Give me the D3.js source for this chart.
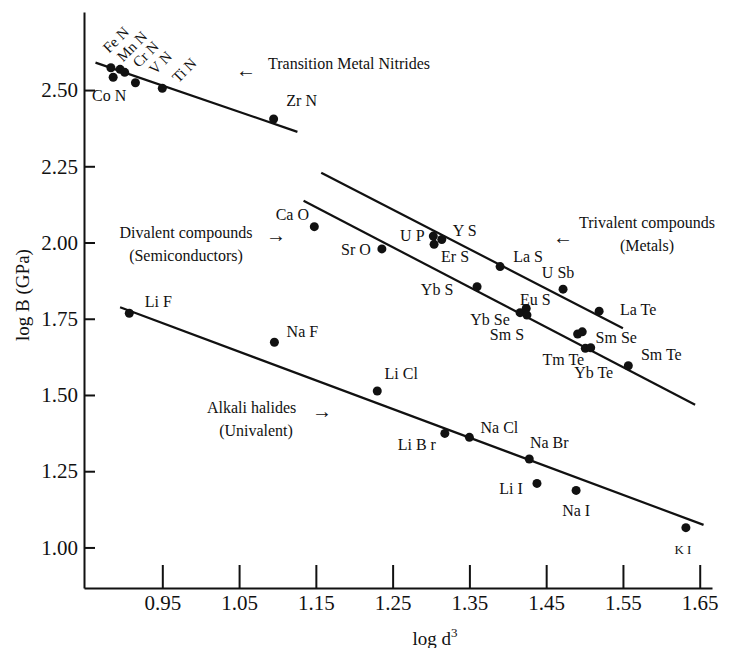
<!DOCTYPE html>
<html>
<head>
<meta charset="utf-8">
<script src="https://cdn.jsdelivr.net/npm/d3@7"></script>
<style>
  body { margin: 0; background: #fff; }
  text { font-family: "Liberation Serif", "Times New Roman", serif; fill: #111; }
</style>
</head>
<body>
<div id="container"></div>
<script>
// values: log d^3 (x) and log B in GPa (y)
const nitrideNames = ['Fe N', 'Co N', 'Mn N', 'Cr N', 'V N', 'Ti N', 'Zr N'];
const nitrideLogD3 = [0.883, 0.886, 0.895, 0.901, 0.915, 0.950, 1.095];
const nitrideLogB  = [2.573, 2.542, 2.568, 2.558, 2.524, 2.506, 2.405];

const divalentNames = ['Ca O', 'Sr O', 'Yb S', 'Yb Se', 'Eu S', 'Sm S', '', 'Sm Se', 'Tm Te', 'Yb Te', 'Sm Te'];
const divalentLogD3 = [1.148, 1.236, 1.360, 1.416, 1.424, 1.425, 1.491, 1.497, 1.501, 1.508, 1.557];
const divalentLogB  = [2.052, 1.979, 1.855, 1.770, 1.784, 1.762, 1.700, 1.707, 1.653, 1.655, 1.596];

const trivalentNames = ['U P', 'Er S', 'Y S', 'La S', 'U Sb', 'La Te'];
const trivalentLogD3 = [1.303, 1.304, 1.314, 1.390, 1.472, 1.519];
const trivalentLogB  = [2.021, 1.994, 2.010, 1.921, 1.847, 1.775];

const alkaliNames = ['Li F', 'Na F', 'Li Cl', 'Li B r', 'Na Cl', 'Na Br', 'Li I', 'Na I', 'K I'];
const alkaliLogD3 = [0.907, 1.096, 1.230, 1.318, 1.350, 1.428, 1.438, 1.489, 1.632];
const alkaliLogB  = [1.768, 1.673, 1.513, 1.374, 1.361, 1.290, 1.210, 1.187, 1.065];

// fitted lines, end points [logD3, logB]
const nitrideFit   = [[0.863, 2.590], [1.126, 2.363]];
const trivalentFit = [[1.157, 2.229], [1.550, 1.719]];
const divalentFit  = [[1.134, 2.137], [1.644, 1.468]];
const alkaliFit    = [[0.895, 1.7875], [1.655, 1.074]];

const xTicks = [0.95, 1.05, 1.15, 1.25, 1.35, 1.45, 1.55, 1.65];
const yTicks = [1.00, 1.25, 1.50, 1.75, 2.00, 2.25, 2.50];

// label placement next to each dot: [dx, dy, rotation]
const labelPos = {
  'Fe N': [5, -28, -45], 'Mn N': [12, -23, -45], 'Cr N': [21, -18, -45],
  'V N': [25, -20, -45], 'Ti N': [22, -18, -45], 'Co N': [-4, 18, 0], 'Zr N': [28, -19, 0],
  'Ca O': [-22, -12, 0], 'Sr O': [-26, 1, 0], 'Yb S': [-40, 3, 0], 'Yb Se': [-30, 7, 0],
  'Eu S': [9, -9, 0], 'Sm S': [-20, 19, 0], 'Sm Se': [34, 6, 0], 'Tm Te': [-22, 11, 0],
  'Yb Te': [3, 25, 0], 'Sm Te': [33, -11, 0],
  'U P': [-21, -1, 0], 'Er S': [21, 12, 0], 'Y S': [23, -9, 0], 'La S': [28, -10, 0],
  'U Sb': [-5, -17, 0], 'La Te': [39, -2, 0],
  'Li F': [29, -12, 0], 'Na F': [28, -11, 0], 'Li Cl': [24, -18, 0], 'Li B r': [-28, 11, 0],
  'Na Cl': [30, -10, 0], 'Na Br': [20, -17, 0], 'Li I': [-26, 5, 0], 'Na I': [0, 20, 0],
  'K I': [-3, 22, 0]
};

const width = 731, height = 648;
const margin = { top: 12, right: 19, bottom: 60, left: 84 };

const svg = d3.select('#container').append('svg')
  .attr('width', width)
  .attr('height', height);

const x = d3.scaleLinear().domain([0.848, 1.666]).range([margin.left, width - margin.right]);
const y = d3.scaleLinear().domain([0.867, 2.756]).range([height - margin.bottom, margin.top]);

// axes
const xAxis = svg.append('g')
  .attr('transform', `translate(0,${height - margin.bottom})`)
  .call(d3.axisBottom(x).tickValues(xTicks).tickFormat(d3.format('.2f'))
    .tickSize(-23).tickSizeOuter(0).tickPadding(7));
const yAxis = svg.append('g')
  .attr('transform', `translate(${margin.left},0)`)
  .call(d3.axisLeft(y).tickValues(yTicks).tickFormat(d3.format('.2f'))
    .tickSize(-11).tickSizeOuter(0).tickPadding(6));

[xAxis, yAxis].forEach(g => {
  g.attr('font-family', null).attr('font-size', null);
  g.selectAll('path, line').attr('stroke', '#111').attr('stroke-width', 2);
  g.selectAll('text').style('font-size', '21px');
});

svg.append('text')
  .attr('transform', `translate(22,295) rotate(-90)`)
  .attr('text-anchor', 'middle')
  .attr('dominant-baseline', 'central')
  .style('font-size', '19px')
  .text('log B (GPa)');

const xTitle = svg.append('text')
  .attr('x', 435)
  .attr('y', 645)
  .attr('text-anchor', 'middle')
  .style('font-size', '19px');
xTitle.append('tspan').text('log d');
xTitle.append('tspan').attr('dy', -8).style('font-size', '13px').text('3');

// fit lines
const line = d3.line().x(d => x(d[0])).y(d => y(d[1]));
[nitrideFit, trivalentFit, divalentFit, alkaliFit].forEach(seg => {
  svg.append('path')
    .attr('d', line(seg))
    .attr('fill', 'none')
    .attr('stroke', '#111')
    .attr('stroke-width', 2.2);
});

// points + labels
const groups = [
  [nitrideNames, nitrideLogD3, nitrideLogB],
  [divalentNames, divalentLogD3, divalentLogB],
  [trivalentNames, trivalentLogD3, trivalentLogB],
  [alkaliNames, alkaliLogD3, alkaliLogB]
];
const points = [];
groups.forEach(([names, xs, ys]) => {
  names.forEach((n, i) => points.push({ name: n, x: xs[i], y: ys[i] }));
});

svg.append('g')
  .selectAll('circle')
  .data(points).enter()
  .append('circle')
  .attr('cx', d => x(d.x))
  .attr('cy', d => y(d.y))
  .attr('r', 4.5)
  .attr('fill', '#111');

svg.append('g')
  .selectAll('text')
  .data(points.filter(d => d.name && labelPos[d.name])).enter()
  .append('text')
  .attr('transform', d => {
    const p = labelPos[d.name];
    return `translate(${x(d.x) + p[0]},${y(d.y) + p[1]}) rotate(${p[2]})`;
  })
  .attr('text-anchor', 'middle')
  .attr('dominant-baseline', 'central')
  .style('font-size', d => d.name === 'K I' ? '13px' : (labelPos[d.name][2] ? '15px' : '16px'))
  .text(d => d.name);

// group annotations
const notes = [
  { t: '\u2190', x: 246, y: 70, a: 'middle', s: 20 },
  { t: 'Transition Metal Nitrides', x: 268, y: 63, a: 'start', s: 16 },
  { t: 'Divalent compounds', x: 186, y: 232, a: 'middle', s: 16 },
  { t: '(Semiconductors)', x: 186, y: 255, a: 'middle', s: 16 },
  { t: '\u2192', x: 276, y: 235, a: 'middle', s: 20 },
  { t: 'Trivalent compounds', x: 647, y: 222, a: 'middle', s: 16 },
  { t: '(Metals)', x: 647, y: 245, a: 'middle', s: 16 },
  { t: '\u2190', x: 563, y: 237, a: 'middle', s: 20 },
  { t: 'Alkali halides', x: 207, y: 407, a: 'start', s: 16 },
  { t: '(Univalent)', x: 256, y: 430, a: 'middle', s: 16 },
  { t: '\u2192', x: 322, y: 411, a: 'middle', s: 20 }
];
svg.append('g')
  .selectAll('text')
  .data(notes).enter()
  .append('text')
  .attr('x', d => d.x)
  .attr('y', d => d.y)
  .attr('text-anchor', d => d.a)
  .attr('dominant-baseline', 'central')
  .style('font-size', d => d.s + 'px')
  .text(d => d.t);
</script>
</body>
</html>
